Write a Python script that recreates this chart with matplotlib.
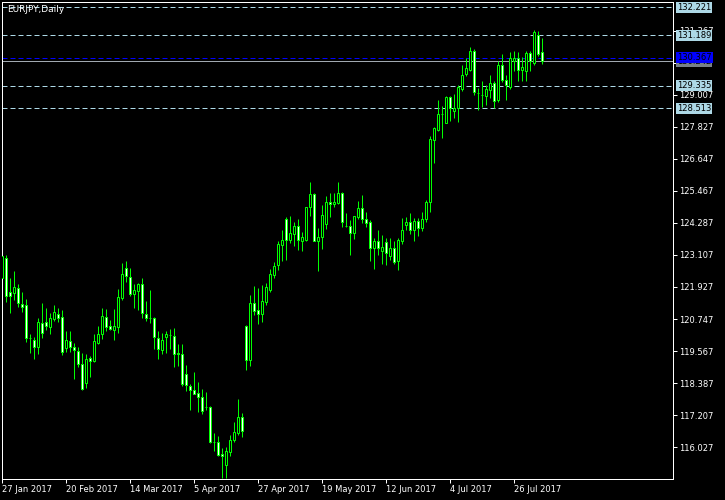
import matplotlib
matplotlib.use('Agg')
import matplotlib.pyplot as plt
import matplotlib.transforms as mtransforms

# EURJPY daily bars, 27 Jan 2017 .. 4 Aug 2017 (one per weekday)
opens = [122.25, 122.98, 121.73, 121.72, 121.88, 121.29, 121.26, 120.04, 119.98, 119.73,
         120.59, 120.63, 120.47, 120.75, 120.92, 120.81, 119.69, 119.95, 119.71, 119.56,
         119.08, 118.41, 119.31, 119.22, 119.88, 120.18, 120.81, 120.49, 120.36, 120.47,
         121.53, 122.61, 122.31, 121.68, 121.79, 122.03, 120.92, 120.79, 120.77, 120.04,
         119.61, 120.09, 120.16, 120.12, 119.50, 119.45, 118.71, 118.28, 118.14, 118.01,
         117.87, 117.52, 117.52, 116.21, 116.21, 115.78, 115.39, 115.85, 116.28, 116.55,
         117.14, 120.50, 119.25, 121.34, 121.07, 120.95, 121.37, 121.80, 122.36, 122.72,
         123.49, 124.43, 123.67, 123.89, 124.16, 123.63, 123.67, 124.86, 125.36, 123.63,
         123.76, 124.23, 125.04, 124.97, 125.03, 125.37, 124.17, 124.17, 123.93, 124.52,
         124.82, 124.42, 124.32, 123.35, 123.62, 123.26, 123.57, 123.08, 123.35, 122.90,
         123.62, 124.21, 124.31, 124.03, 124.36, 124.09, 124.42, 125.04, 127.34, 127.72,
         128.29, 127.96, 128.91, 128.39, 128.51, 129.23, 129.78, 129.93, 130.60, 129.07,
         129.00, 128.97, 129.19, 129.43, 128.82, 130.08, 129.53, 129.27, 130.23, 130.35,
         129.93, 129.89, 130.54, 130.17, 131.19, 130.58]
highs = [123.07, 123.10, 122.25, 122.52, 122.04, 121.73, 121.47, 120.20, 120.07, 120.77,
         121.33, 121.14, 120.96, 121.25, 121.14, 121.07, 120.31, 120.31, 119.85, 119.71,
         119.50, 119.45, 119.39, 120.20, 120.49, 121.15, 121.11, 120.71, 121.11, 121.85,
         122.80, 122.88, 122.61, 122.03, 122.09, 122.25, 121.41, 121.82, 120.83, 120.31,
         120.22, 120.31, 120.38, 120.41, 119.82, 119.82, 119.06, 118.34, 118.81, 118.43,
         118.17, 118.06, 117.55, 116.55, 116.45, 116.00, 116.02, 116.47, 116.95, 117.80,
         117.28, 120.54, 121.65, 121.98, 121.89, 122.01, 122.07, 122.59, 122.84, 123.61,
         124.04, 124.49, 124.55, 124.31, 124.43, 123.94, 124.86, 125.78, 125.39, 124.10,
         124.93, 125.28, 125.37, 125.37, 125.79, 125.42, 124.64, 124.39, 124.54, 125.09,
         125.31, 124.69, 124.39, 123.72, 124.03, 123.84, 123.72, 123.72, 123.62, 123.72,
         124.46, 124.50, 124.64, 124.46, 124.46, 124.68, 125.13, 127.49, 127.83, 128.82,
         128.58, 128.97, 128.94, 129.04, 129.37, 130.08, 130.35, 130.76, 130.69, 129.25,
         129.50, 129.37, 129.74, 129.50, 130.23, 130.50, 129.74, 130.58, 130.60, 130.58,
         130.38, 130.60, 130.60, 131.40, 131.34, 131.09]
lows = [122.25, 121.39, 120.98, 121.45, 121.18, 121.02, 119.91, 119.51, 119.29, 119.47,
        120.04, 120.34, 120.18, 120.68, 120.65, 119.42, 119.55, 119.52, 118.55, 118.99,
        118.14, 118.22, 118.63, 119.17, 119.82, 120.00, 120.31, 120.34, 119.98, 120.23,
        121.45, 122.12, 121.61, 121.17, 121.08, 120.80, 120.68, 120.59, 119.64, 119.28,
        119.46, 119.51, 119.64, 118.99, 119.03, 118.28, 118.10, 117.40, 117.98, 117.34,
        117.26, 117.39, 116.18, 115.90, 115.69, 114.90, 114.88, 115.72, 116.22, 116.49,
        116.41, 118.88, 119.03, 120.91, 120.58, 120.64, 121.28, 121.74, 122.26, 122.57,
        122.90, 122.93, 123.55, 123.45, 123.30, 123.26, 123.63, 124.55, 123.61, 122.53,
        123.34, 124.07, 124.52, 124.88, 124.99, 124.15, 124.15, 123.10, 123.71, 124.43,
        124.29, 124.15, 122.88, 122.60, 123.10, 122.79, 122.75, 122.92, 122.76, 122.55,
        123.51, 124.03, 123.88, 123.63, 123.80, 123.99, 124.33, 124.70, 126.48, 127.66,
        127.41, 127.96, 128.02, 128.15, 127.99, 129.15, 129.70, 129.86, 129.00, 128.45,
        128.54, 128.61, 128.88, 128.51, 128.73, 129.46, 128.82, 129.21, 129.89, 129.52,
        129.52, 129.52, 129.86, 130.11, 130.42, 130.13]
closes = [123.07, 121.61, 121.61, 121.91, 121.33, 121.18, 120.06, 120.04, 119.71, 120.63,
          120.22, 120.50, 120.80, 121.00, 120.80, 119.52, 119.98, 119.73, 119.62, 119.09,
          118.16, 119.26, 119.22, 119.94, 120.18, 120.86, 120.47, 120.39, 120.49, 121.55,
          122.39, 122.33, 121.67, 121.80, 122.03, 120.98, 120.77, 120.79, 120.07, 119.63,
          119.98, 120.20, 120.16, 119.46, 119.46, 118.36, 118.32, 118.15, 118.00, 117.89,
          117.38, 117.52, 116.21, 116.21, 115.76, 115.69, 115.88, 116.28, 116.58, 117.14,
          116.64, 119.25, 121.34, 121.06, 120.93, 121.40, 121.92, 122.42, 122.71, 123.51,
          123.65, 123.67, 123.92, 124.16, 123.65, 123.76, 124.86, 125.35, 123.63, 123.76,
          124.56, 125.04, 124.97, 125.04, 125.37, 124.31, 124.17, 123.93, 124.54, 124.82,
          124.42, 124.29, 123.35, 123.62, 123.35, 123.39, 123.17, 123.35, 122.86, 123.66,
          124.03, 124.32, 124.03, 124.36, 124.11, 124.42, 125.04, 127.36, 127.77, 128.29,
          128.29, 128.91, 128.51, 128.51, 129.27, 129.72, 129.99, 130.60, 129.09, 129.07,
          129.00, 129.23, 129.43, 128.78, 130.08, 129.56, 129.35, 130.35, 130.35, 129.93,
          130.01, 130.54, 130.23, 131.30, 130.51, 130.23]

date_labels = ['27 Jan 2017', '20 Feb 2017', '14 Mar 2017', '5 Apr 2017', '27 Apr 2017',
               '19 May 2017', '12 Jun 2017', '4 Jul 2017', '26 Jul 2017']
date_bars = [0, 16, 32, 48, 64, 80, 96, 112, 128]

price_ticks = [116.027, 117.207, 118.387, 119.567, 120.747, 121.927, 123.107,
               124.287, 125.467, 126.647, 127.827, 129.007, 130.187, 131.367]
# 130.187 sits fully under the price boxes, so its label is left blank
price_tick_labels = ['116.027', '117.207', '118.387', '119.567', '120.747', '121.927',
                     '123.107', '124.287', '125.467', '126.647', '127.827', '129.007',
                     '', '131.367']

levels = [132.221, 131.189, 129.335, 128.513]   # dashed light blue lines
blue_level = 130.367
bid = 130.242

GREEN = '#00ff00'
LEVEL_C = '#add8e6'
PX = 0.72  # one pixel in points at dpi 100

fig = plt.figure(figsize=(7.25, 5), dpi=100, facecolor='black')
ax = fig.add_axes([2 / 725, 21 / 500, 671 / 725, 477 / 500])
ax.set_facecolor('black')
ax.set_xlim(0, 167.75)
ax.set_ylim(114.86, 132.416)

x = list(range(len(opens)))
ax.vlines(x, lows, highs, color=GREEN, lw=PX, zorder=2)
bottoms = [min(o, c) for o, c in zip(opens, closes)]
heights = [abs(c - o) for o, c in zip(opens, closes)]
fills = ['white' if c < o else 'black' for o, c in zip(opens, closes)]
ax.bar(x, heights, bottom=bottoms, width=0.5, color=fills, edgecolor=GREEN,
       linewidth=PX, zorder=3)

for v in levels:
    ax.axhline(v, color=LEVEL_C, lw=PX, ls=(0, (5, 3)), zorder=1)
ax.axhline(blue_level, color='#0000ff', lw=PX, ls=(0, (5, 3)), zorder=1)
ax.axhline(bid, color='#a0a8b0', lw=PX, zorder=1)

for s in ax.spines.values():
    s.set_color('white')
    s.set_linewidth(PX)

ax.yaxis.tick_right()
ax.set_yticks(price_ticks)
ax.set_yticklabels(price_tick_labels)
ax.set_xticks(date_bars)
ax.set_xticklabels(date_labels)
ax.tick_params(colors='white', labelsize=6, length=3, width=PX, pad=1.5)
for lab in ax.get_xticklabels():
    lab.set_horizontalalignment('left')

trans = mtransforms.blended_transform_factory(ax.transAxes, ax.transData)
lx = 1 + 4 / 671
ax.text(lx, bid, '%.3f' % bid, transform=trans, ha='left', va='center', fontsize=6,
        color='black', bbox=dict(boxstyle='square,pad=0.12', fc='#778088', ec='none'), zorder=5)
for v in levels:
    ax.text(lx, v, '%.3f' % v, transform=trans, ha='left', va='center', fontsize=6,
            color='black', bbox=dict(boxstyle='square,pad=0.12', fc=LEVEL_C, ec='none'), zorder=5)
ax.text(lx, blue_level, '%.3f' % blue_level, transform=trans, ha='left', va='center',
        fontsize=6, color='black',
        bbox=dict(boxstyle='square,pad=0.12', fc='#0000ff', ec='none'), zorder=6)

fig.text(7 / 725, 1 - 10 / 500, 'EURJPY,Daily', color='white', fontsize=6.5,
         ha='left', va='center')

fig.savefig('out.png', dpi=100, facecolor='black')
